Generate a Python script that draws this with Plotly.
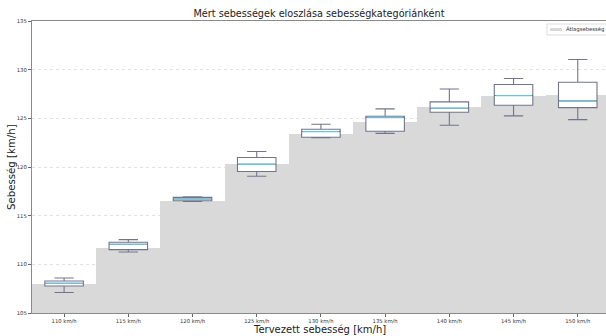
import plotly.graph_objects as go

categories = ["110 km/h", "115 km/h", "120 km/h", "125 km/h", "130 km/h",
              "135 km/h", "140 km/h", "145 km/h", "150 km/h"]
mean_speed = [107.95, 111.65, 116.55, 120.28, 123.37, 124.63, 126.21, 127.30, 127.44]
whisk_low = [107.10, 111.27, 116.47, 119.05, 123.02, 123.45, 124.29, 125.25, 124.87]
q1 = [107.78, 111.51, 116.53, 119.53, 123.06, 123.67, 125.63, 126.35, 126.10]
median = [108.05, 112.06, 116.72, 120.28, 123.64, 125.08, 126.04, 127.34, 126.79]
q3 = [108.29, 112.27, 116.88, 120.97, 123.88, 125.22, 126.69, 128.47, 128.71]
whisk_high = [108.60, 112.54, 116.95, 121.59, 124.39, 125.97, 128.02, 129.09, 131.04]
y_ticks = [105, 110, 115, 120, 125, 130, 135]

FONT = "DejaVu Sans"
W, H = 606, 336
ML, MR, MT, MB = 32, 0, 21, 23
PW, PH = W - ML - MR, H - MT - MB
n = len(categories)
idx = list(range(n))
FILL = "#d9d9d9"


def px_x(p):
    return (p - ML) / PW


def px_y(p):
    return 1 - (p - MT) / PH


fig = go.Figure()

# step area of mean speeds (bars of full width, drawn below the boxes)
fig.add_trace(go.Bar(
    x=idx, y=mean_speed, width=1.0, marker=dict(color=FILL, line=dict(width=0)),
    name="Átlagsebesség", showlegend=False, hoverinfo="skip",
))

box_w = 0.6
fig.add_trace(go.Box(
    x=idx, q1=q1, median=median, q3=q3, lowerfence=whisk_low, upperfence=whisk_high,
    width=box_w, whiskerwidth=0.5, fillcolor="white",
    line=dict(color="#72758a", width=1.1), showlegend=False, hoverinfo="skip",
))

mx, my = [], []
for i, m in zip(idx, median):
    mx += [i - box_w / 2 + 0.02, i + box_w / 2 - 0.02, None]
    my += [m, m, None]
fig.add_trace(go.Scatter(x=mx, y=my, mode="lines", line=dict(color="#6cc3d9", width=1.3),
                         showlegend=False, hoverinfo="skip"))

shapes = [
    dict(type="rect", xref="paper", yref="paper", x0=px_x(547), x1=px_x(607),
         y0=px_y(35), y1=px_y(24), line=dict(color="#dddddd", width=1),
         fillcolor="rgba(255,255,255,0.9)", layer="above"),
    dict(type="rect", xref="paper", yref="paper", x0=px_x(550), x1=px_x(562),
         y0=px_y(31), y1=px_y(28), line=dict(width=0), fillcolor=FILL, layer="above"),
]
annotations = [
    dict(text="Átlagsebesség", xref="paper", yref="paper", x=px_x(564), y=px_y(29.5),
         xanchor="left", yanchor="middle", showarrow=False,
         font=dict(size=5.3, family=FONT, color="#333")),
    dict(text="Tervezett sebesség [km/h]", xref="paper", yref="paper",
         x=0.5, y=px_y(329), xanchor="center", yanchor="middle", showarrow=False,
         font=dict(size=10, family=FONT, color="#222")),
    dict(text="Sebesség [km/h]", xref="paper", yref="paper", textangle=-90,
         x=px_x(11), y=0.5, xanchor="center", yanchor="middle", showarrow=False,
         font=dict(size=10.2, family=FONT, color="#222")),
]

fig.update_layout(
    width=W, height=H,
    margin=dict(l=ML, r=MR, t=MT, b=MB, autoexpand=False),
    plot_bgcolor="white", paper_bgcolor="white",
    font=dict(family=FONT, color="#222"),
    title=dict(text="Mért sebességek eloszlása sebességkategóriánként",
               xref="paper", x=0.5, xanchor="center",
               yref="container", y=1 - 14 / H, yanchor="middle",
               font=dict(size=9.7, family=FONT, color="#222")),
    showlegend=False, bargap=0,
    shapes=shapes, annotations=annotations,
)

fig.update_xaxes(
    range=[-0.5, 8.44], tickmode="array", tickvals=idx, ticktext=categories,
    tickfont=dict(size=5.3, family=FONT, color="#333"), ticks="outside", ticklen=3,
    tickcolor="#666", showgrid=False, zeroline=False,
    showline=True, linecolor="#8a8a8a", linewidth=1.2, mirror=True,
)
fig.update_yaxes(
    range=[105, 135], tickmode="array", tickvals=y_ticks, ticktext=[str(v) for v in y_ticks],
    tickfont=dict(size=5.3, family=FONT, color="#333"), ticks="outside", ticklen=3,
    tickcolor="#666", showgrid=True, gridcolor="#e2e2e2", griddash="dot", gridwidth=0.7,
    zeroline=False, showline=True, linecolor="#8a8a8a", linewidth=1.2,
    layer="above traces",
)

fig.write_html("out.html", config={"displayModeBar": False},
               post_script="document.body.style.margin='0';document.body.style.overflow='hidden';")
